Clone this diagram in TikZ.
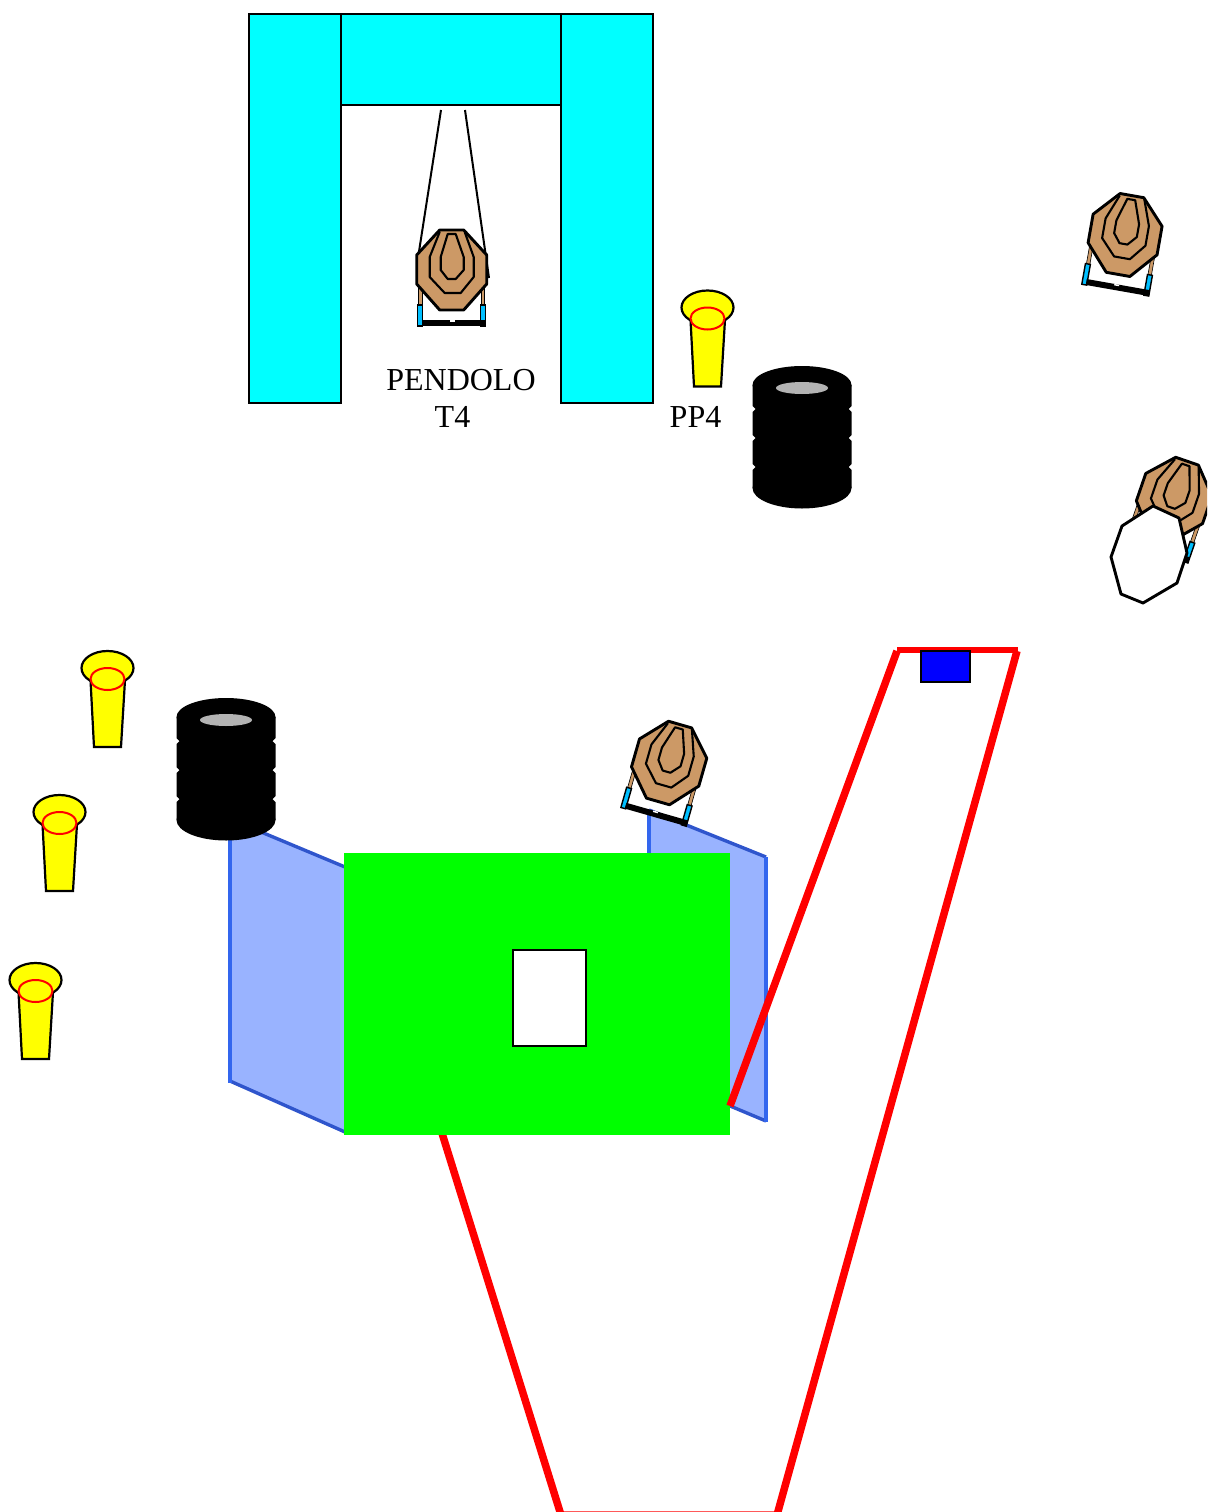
\documentclass[tikz,border=0pt]{standalone}
\usepackage{fontspec}
\setmainfont{Liberation Serif}
\definecolor{tan1}{HTML}{CC9966}
\definecolor{legblue}{HTML}{00BFFF}
\definecolor{panelfill}{HTML}{99B3FF}
\definecolor{paneledge}{HTML}{3366EE}
\definecolor{paneldark}{HTML}{2F55CC}
\definecolor{holegray}{HTML}{B3B3B3}
\definecolor{wallcyan}{HTML}{00FFFF}
\definecolor{coneyellow}{HTML}{FFFF00}
\tikzset{
  outline/.style={draw=black,line width=2.2pt,line join=miter},
  targetline/.style={draw=black,line width=2.1pt,line join=round},
  wall/.style={fill=wallcyan,draw=black,line width=2.2pt},
  panel/.style={fill=panelfill},
  paneltop/.style={draw=paneldark,line width=3.4pt},
  panelside/.style={draw=paneledge,line width=4.8pt},
  redline/.style={draw=red,line width=7.5pt,line cap=butt,line join=miter},
  label/.style={font=\fontsize{32}{36}\selectfont,inner sep=0pt,text=black},
  pics/target/.style={code={
    \path[draw=black,line width=.6pt,fill=tan1] (-33,10) rectangle (-29.5,38);
    \path[draw=black,line width=.6pt,fill=tan1] (29.5,10) rectangle (33,38);
    \path[fill=legblue,draw=black,line width=1.4pt] (-34,35) rectangle (-29,56);
    \path[fill=legblue,draw=black,line width=1.4pt] (29,35) rectangle (34,56);
    \path[fill=black] (-30,50) rectangle (34,56);
    \path[fill=white] (-2,50) rectangle (3,51.5);
    \path[targetline,line width=2.9pt,fill=tan1] (-12,-40) -- (12,-40) -- (35,-15) -- (35,14) -- (12,40) -- (-12,40) -- (-35,14) -- (-35,-15) -- cycle;
    \path[targetline] (-12,-38) -- (-22,-13) -- (-22,7) -- (-7,23) -- (9,23) -- (22,7) -- (22,-13) -- (13,-38);
    \path[targetline] (-4,-36) -- (4,-36) -- (12,-13) -- (12,0) -- (4,9) -- (-4,9) -- (-11,0) -- (-11,-13) -- cycle;
  }},
  pics/cone/.style={code={
    \path[outline,fill=coneyellow] (0,0) ellipse [x radius=26,y radius=17];
    \path[outline,fill=coneyellow] (-17,12) -- (-13.5,79) -- (13.5,79) -- (17.5,12);
    \path[draw=red,line width=2pt] (0,11) ellipse [x radius=17,y radius=11];
  }},
  pics/tires/.style={code={
    \path[fill=black] (-49.5,0) -- (-49.5,21) -- (-46.5,24) -- (-49.5,27) -- (-49.5,50) -- (-46.5,53) -- (-49.5,56) -- (-49.5,79) -- (-46.5,82) -- (-49.5,85) -- (-49.5,103) -- (49.5,103) -- (49.5,85) -- (46.5,82) -- (49.5,79) -- (49.5,56) -- (46.5,53) -- (49.5,50) -- (49.5,27) -- (46.5,24) -- (49.5,21) -- (49.5,0) -- cycle;
    \path[fill=black] (0,0) ellipse [x radius=49.5,y radius=19];
    \path[fill=black] (0,103) ellipse [x radius=49.5,y radius=20.5];
    \path[fill=holegray] (0,3) ellipse [x radius=26,y radius=6];
  }}
}
\begin{document}
\begin{tikzpicture}[x=1pt,y=-1pt]
\useasboundingbox (0,0) rectangle (1207,1512);
\clip (0,0) rectangle (1207,1512);
% gate
\path[wall] (249,14) rectangle (341,403);
\path[wall] (561,14) rectangle (653,403);
\path[wall] (341,14) rectangle (561,105);
\draw[black,line width=2pt] (441,110) -- (418,258);
\draw[black,line width=2pt] (465,110) -- (489,278);
\pic at (451.7,270) {target};
\node[label] (pendolo) at (461,380) {PENDOLO};
\node[label] (tfour) at (452.5,416.5) {T4};
\node[label] (ppfour) at (695.5,416.5) {PP4};
% cones and tires
\pic at (707.5,307.5) {cone};
\pic at (107.5,668) {cone};
\pic at (59.5,812) {cone};
\pic at (35.5,980) {cone};
\pic at (802,385) {tires};
% targets on the right
\pic[rotate=-10] at (1125,235) {target};
\pic[rotate=-19] at (1174,499) {target};
\path[targetline,line width=2.9pt,fill=white] (1153,506) -- (1179,518) -- (1187,553) -- (1177,583) -- (1143,603) -- (1121,594) -- (1111,557) -- (1122,526) -- cycle;
% course
\path[redline] (441,1130) -- (561,1515) -- (777,1515) -- (1017,651);
\path[panel] (230,819) -- (345,867) -- (345,1132) -- (230,1081) -- cycle;
\path[paneltop] (230,819) -- (345,867);
\path[paneltop] (230,1081) -- (345,1132);
\path[panelside] (230,819) -- (230,1083);
\path[panel] (649,810) -- (766,857) -- (766,1121) -- (649,1072) -- cycle;
\path[paneltop] (649,810) -- (766,857);
\path[paneltop] (649,1072) -- (766,1121);
\path[panelside] (766,857) -- (766,1122);
\path[panelside,line width=3.5pt] (649,810) -- (649,860);
\pic at (226,717) {tires};
\pic[rotate=-16] at (669,763) {target};
\path[fill=green] (344,853) rectangle (730,1135);
\path[draw=black,line width=2.2pt,fill=white] (513,950) rectangle (586,1046);
\path[redline,line width=6.5pt] (897,650) -- (1018,650);
\path[redline] (897,651) -- (730,1106);
\path[draw=black,line width=2.2pt,fill=blue] (921,651) rectangle (970,682);
\end{tikzpicture}
\end{document}
